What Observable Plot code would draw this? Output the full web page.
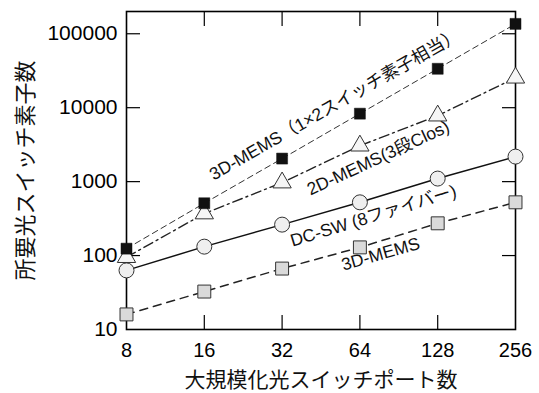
<!DOCTYPE html>
<html>
<head>
<meta charset="utf-8">
<script src="https://cdn.jsdelivr.net/npm/d3@7"></script>
<script src="https://cdn.jsdelivr.net/npm/@observablehq/plot@0.6"></script>
<style>
  html, body { margin: 0; padding: 0; background: white; }
</style>
</head>
<body>
<div id="chart"></div>
<script>
const ports = [8, 16, 32, 64, 128, 256];
const mems1x2 = [124, 510, 2050, 8300, 33600, 136000];
const mems2d = [95, 370, 970, 3060, 7800, 25400];
const dcsw = [63, 132, 262, 525, 1100, 2180];
const mems3d = [16, 32.6, 66.7, 129, 273, 525];
const yTicks = [10, 100, 1000, 10000, 100000];
const xTicks = [8, 16, 32, 64, 128, 256];

const labelTexts = ["3D-MEMS（1×2スイッチ素子相当）", "2D-MEMS(3段Clos)", "DC-SW (8ファイバー)", "3D-MEMS"];
const labelX = [17.4, 41.2, 35.1, 55.3];
const labelY = [1030, 647, 132, 62.5];
const labelAngle = [-29.8, -24.8, -17, -16];

const xTitle = "大規模化光スイッチポート数";
const yTitle = "所要光スイッチ素子数";

const toRows = (vals) => ports.map((p, i) => ({x: p, y: vals[i]}));
const s1 = toRows(mems1x2), s2 = toRows(mems2d), s3 = toRows(dcsw), s4 = toRows(mems3d);
const labels = labelTexts.map((t, i) => ({t, x: labelX[i], y: labelY[i], a: labelAngle[i]}));
const inner = xTicks.slice(1, -1);
const innerY = yTicks.slice(1);

const chart = Plot.plot({
  width: 539,
  height: 393,
  marginLeft: 126,
  marginRight: 24,
  marginTop: 11,
  marginBottom: 64,
  style: {fontFamily: "'Liberation Sans', 'Noto Sans CJK JP', sans-serif", background: "white", color: "black"},
  x: {type: "log", base: 2, domain: [8, 256]},
  y: {type: "log", domain: [10, 200000]},
  marks: [
    Plot.axisX(xTicks, {anchor: "bottom", tickSize: 0, tickPadding: 13, fontSize: 20, tickFormat: d => String(d), label: null}),
    Plot.axisX(inner, {anchor: "bottom", tickSize: -14, tickFormat: () => "", label: null, strokeWidth: 1.2}),
    Plot.axisX(inner, {anchor: "top", tickSize: -14, tickFormat: () => "", label: null, strokeWidth: 1.2}),
    Plot.axisY(yTicks, {anchor: "left", tickSize: 0, tickPadding: 9, fontSize: 21, tickFormat: d => String(d), label: null}),
    Plot.axisY(innerY, {anchor: "left", tickSize: -14, tickFormat: () => "", label: null, strokeWidth: 1.2}),
    Plot.axisY(innerY, {anchor: "right", tickSize: -14, tickFormat: () => "", label: null, strokeWidth: 1.2}),
    Plot.frame({stroke: "black", strokeWidth: 1.6}),
    Plot.line(s1, {x: "x", y: "y", stroke: "#333", strokeWidth: 1, strokeDasharray: "6,4"}),
    Plot.line(s2, {x: "x", y: "y", stroke: "#222", strokeWidth: 1.4, strokeDasharray: "10,4,2,4"}),
    Plot.line(s3, {x: "x", y: "y", stroke: "#111", strokeWidth: 1.5}),
    Plot.line(s4, {x: "x", y: "y", stroke: "#222", strokeWidth: 1.5, strokeDasharray: "8,6"}),
    Plot.dot(s4, {x: "x", y: "y", symbol: "square", r: 7.3, fill: "#dadada", stroke: "#333", strokeWidth: 1}),
    Plot.dot(s3, {x: "x", y: "y", symbol: "circle", r: 7.5, fill: "#efefef", stroke: "#333", strokeWidth: 1}),
    Plot.dot(s2, {x: "x", y: "y", symbol: "triangle", r: 6.8, fill: "#f6f6f6", stroke: "#333", strokeWidth: 1}),
    Plot.dot(s1, {x: "x", y: "y", symbol: "square", r: 6.2, fill: "#111", stroke: "#111", strokeWidth: 0.5}),
    Plot.text(labels, {x: "x", y: "y", text: "t", rotate: "a", textAnchor: "start", lineAnchor: "bottom", fontSize: 17.5, fill: "#111"}),
    Plot.text([xTitle], {frameAnchor: "bottom", dy: 51, textAnchor: "middle", lineAnchor: "middle", fontSize: 21, fill: "#111"}),
    Plot.text([yTitle], {frameAnchor: "left", dx: -101, rotate: -90, textAnchor: "middle", lineAnchor: "middle", fontSize: 22, fill: "#111"})
  ]
});
document.getElementById("chart").appendChild(chart);
</script>
</body>
</html>
